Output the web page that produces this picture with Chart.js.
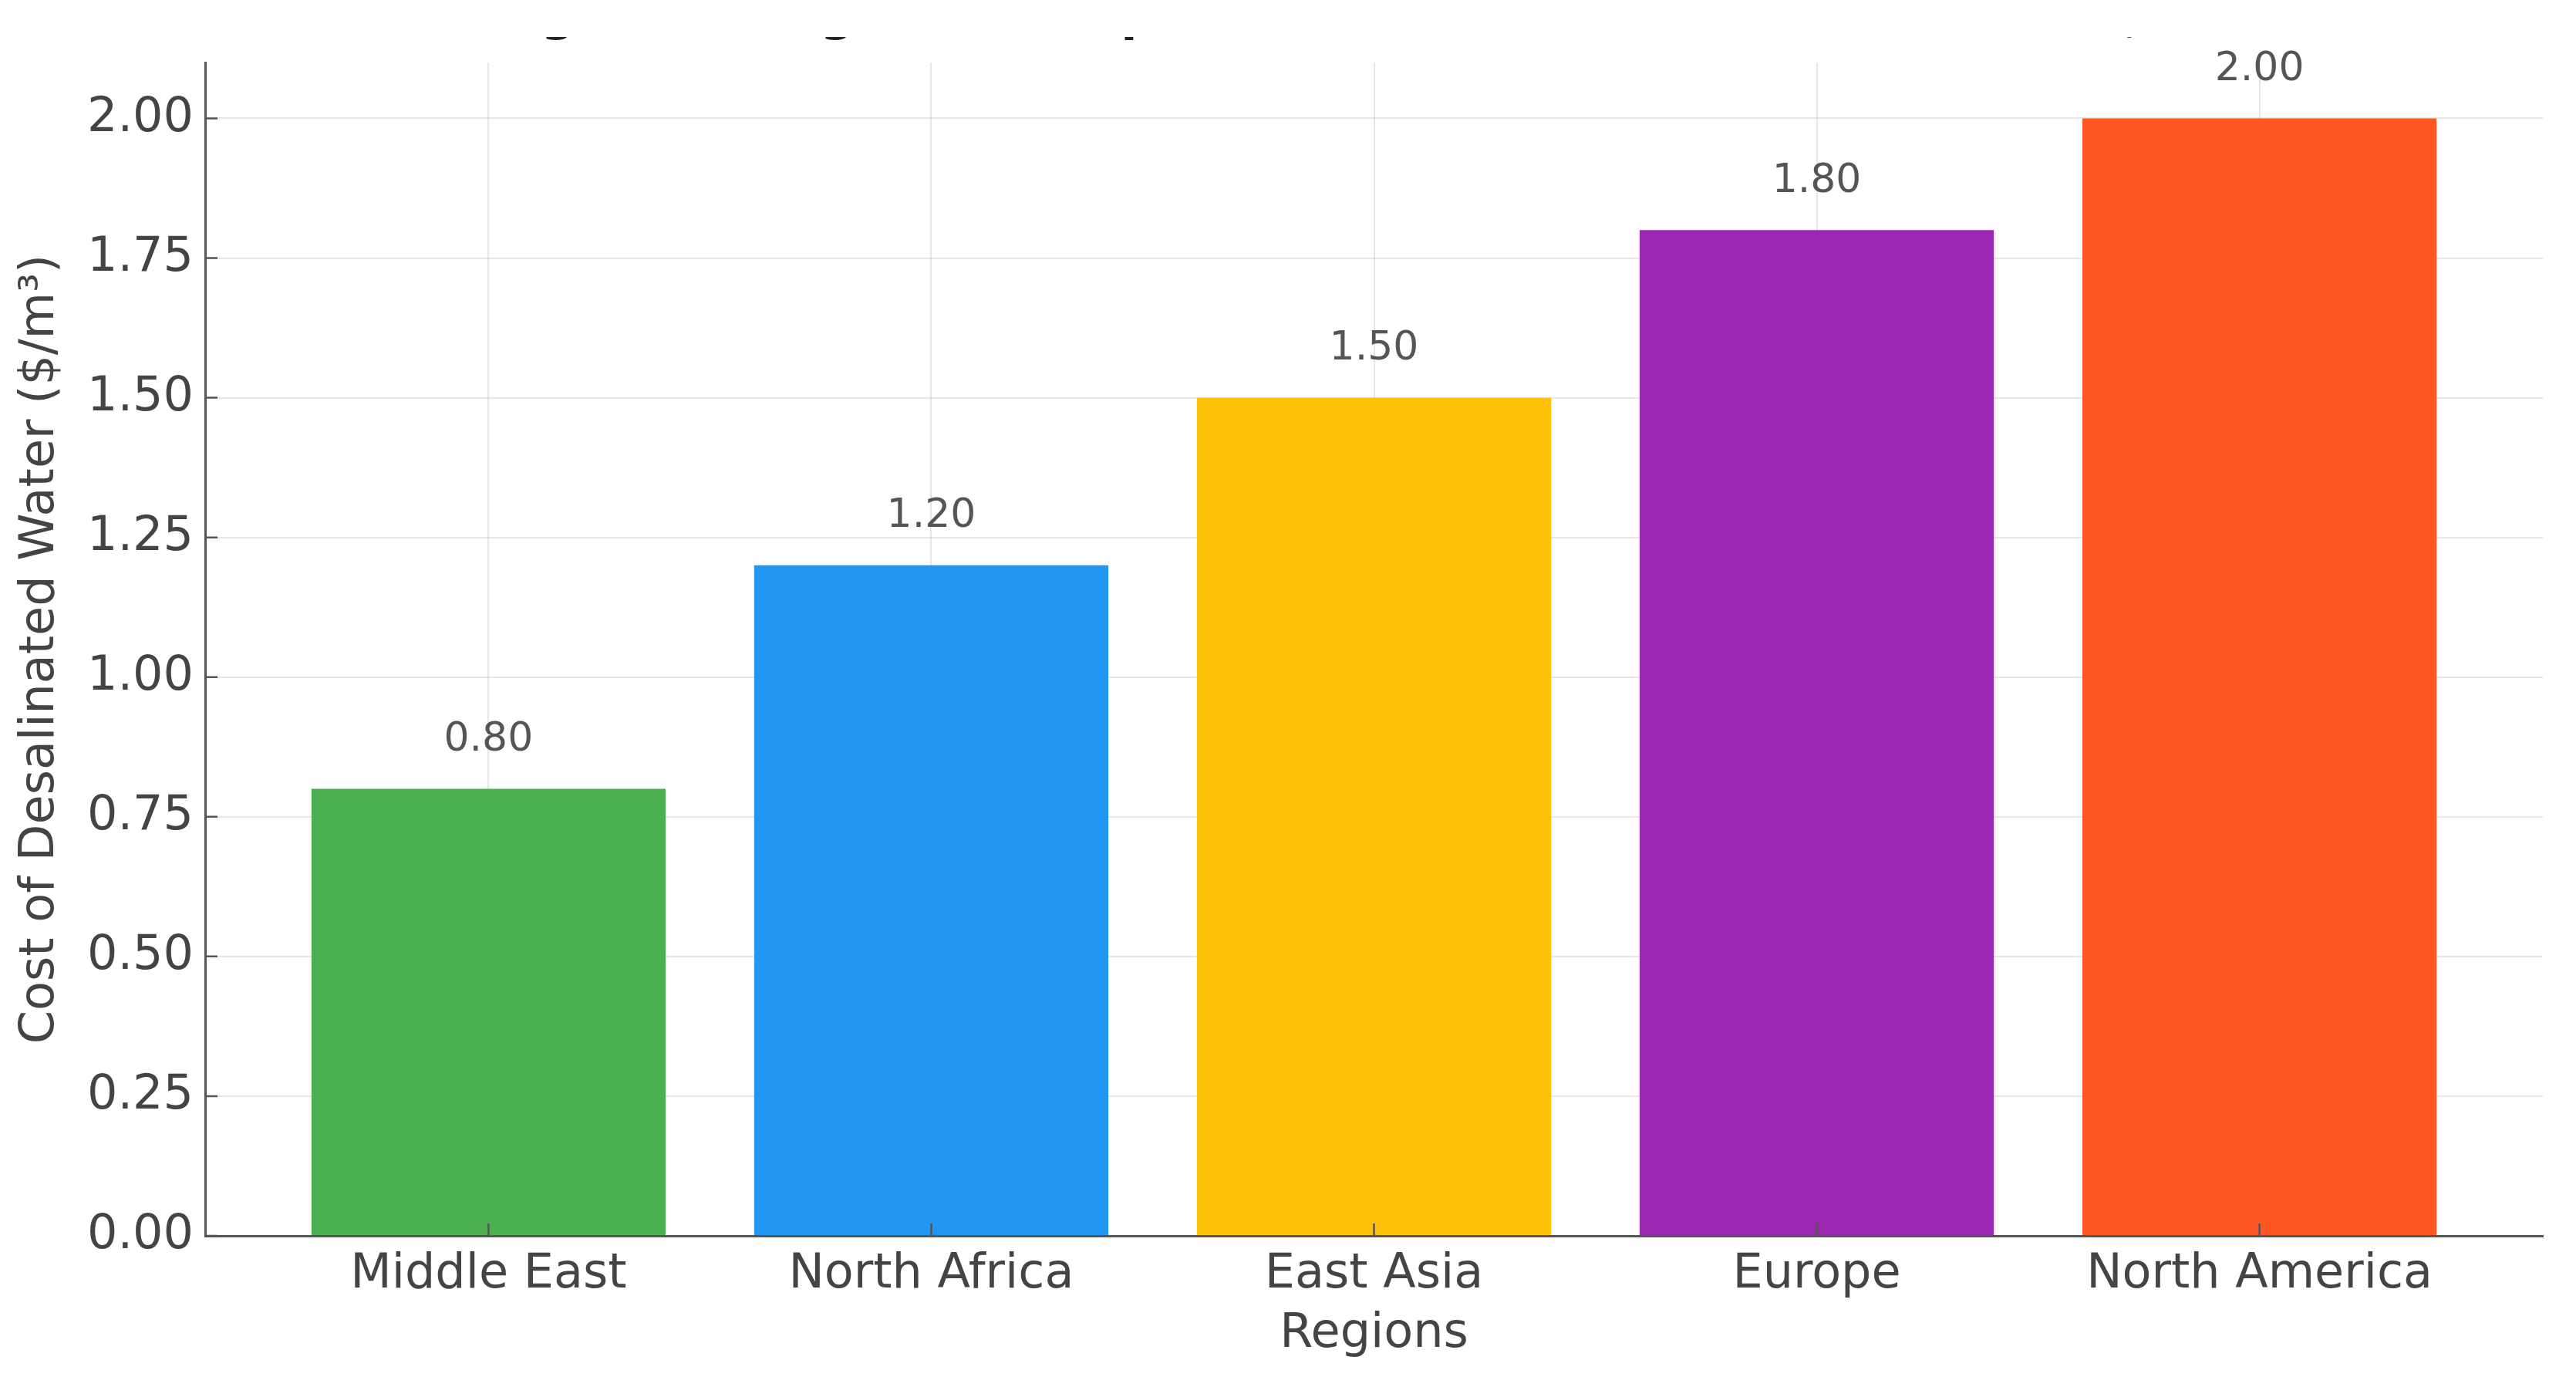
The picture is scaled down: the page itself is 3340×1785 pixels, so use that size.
<!DOCTYPE html>
<html lang="en">
<head>
<meta charset="UTF-8">
<title>Regional Comparison of Desalinated Water Costs</title>
<script src="https://cdn.jsdelivr.net/npm/chart.js"></script>
<style>
  body { margin: 0; background: #fff; }
  /* the reference is cropped through the title, so clip the canvas top */
  #clip { position: absolute; left: 0; top: 48px; width: 3340px; height: 1737px; overflow: hidden; }
  #costChart { position: absolute; left: 0; top: -62px; }
</style>
</head>
<body>
<div id="clip"><canvas id="costChart" width="3340" height="1799"></canvas></div>
<script>
const regions = ['Middle East', 'North Africa', 'East Asia', 'Europe', 'North America'];
const costs = [0.80, 1.20, 1.50, 1.80, 2.00];
const barColors = ['#4CAF50', '#2196F3', '#FFC107', '#9C27B0', '#FF5722'];
const yTicks = [0, 0.25, 0.5, 0.75, 1.0, 1.25, 1.5, 1.75, 2.0];

Chart.defaults.font.family = 'DejaVu Sans';
Chart.defaults.color = '#444';

// value labels above each bar
const valueLabels = {
    id: 'valueLabels',
    afterDatasetsDraw(chart) {
        const ctx = chart.ctx;
        ctx.save();
        ctx.font = '52px "DejaVu Sans"';
        ctx.fillStyle = '#555';
        ctx.textAlign = 'center';
        ctx.textBaseline = 'middle';
        chart.getDatasetMeta(0).data.forEach((bar, i) => {
            ctx.fillText(costs[i].toFixed(2), bar.x, bar.y - 63);
        });
        ctx.restore();
    }
};

// short tick marks pointing into the plot
const innerTicks = {
    id: 'innerTicks',
    afterDraw(chart) {
        const ctx = chart.ctx;
        const area = chart.chartArea;
        const x = chart.scales.x, y = chart.scales.y;
        ctx.save();
        ctx.strokeStyle = '#555';
        ctx.lineWidth = 2.5;
        ctx.beginPath();
        yTicks.forEach(v => {
            const py = y.getPixelForValue(v);
            ctx.moveTo(area.left, py);
            ctx.lineTo(area.left + 16, py);
        });
        regions.forEach((r, i) => {
            const px = x.getPixelForValue(i);
            ctx.moveTo(px, area.bottom);
            ctx.lineTo(px, area.bottom - 16);
        });
        ctx.stroke();
        ctx.restore();
    }
};

const ctx = document.getElementById('costChart').getContext('2d');
new Chart(ctx, {
    type: 'bar',
    data: {
        datasets: [{
            data: costs.map((v, i) => ({ x: i, y: v })),
            backgroundColor: barColors,
            borderWidth: 0,
            barPercentage: 0.8,
            categoryPercentage: 1.0
        }]
    },
    options: {
        responsive: false,
        animation: false,
        layout: { padding: { left: 0, right: 43, top: 0, bottom: 0 } },
        plugins: {
            legend: { display: false },
            tooltip: { enabled: false },
            title: {
                display: true,
                fullSize: false,
                text: 'Figure 3: Regional Comparison of Desalinated Water Costs ($/m³)',
                color: '#222',
                font: { size: 62, weight: 'bold' },
                padding: { top: 0, bottom: 20.6 }
            }
        },
        scales: {
            x: {
                type: 'linear',
                min: -0.64,
                max: 4.64,
                offset: false,
                z: 1,
                afterBuildTicks: axis => { axis.ticks = regions.map((r, i) => ({ value: i })); },
                afterFit: axis => { axis.height = 183; },
                grid: { offset: false, color: 'rgba(160,160,160,0.25)', lineWidth: 2, drawTicks: false },
                border: { color: '#555', width: 3 },
                ticks: {
                    autoSkip: false,
                    maxRotation: 0,
                    padding: 14,
                    color: '#444',
                    font: { size: 62 },
                    callback: v => regions[v]
                },
                title: {
                    display: true,
                    text: 'Regions',
                    color: '#444',
                    font: { size: 62 },
                    padding: { top: 0, bottom: 18 }
                }
            },
            y: {
                min: 0,
                max: 2.1,
                z: 1,
                afterBuildTicks: axis => { axis.ticks = yTicks.map(v => ({ value: v })); },
                afterFit: axis => { axis.width = 266; },
                grid: { color: 'rgba(160,160,160,0.25)', lineWidth: 2, drawTicks: false },
                border: { color: '#555', width: 3 },
                ticks: {
                    padding: 15,
                    color: '#444',
                    font: { size: 62 },
                    callback: v => v.toFixed(2)
                },
                title: {
                    display: true,
                    text: 'Cost of Desalinated Water ($/m³)',
                    color: '#444',
                    font: { size: 62 },
                    padding: { top: 16, bottom: 0 }
                }
            }
        }
    },
    plugins: [valueLabels, innerTicks]
});
</script>
</body>
</html>
